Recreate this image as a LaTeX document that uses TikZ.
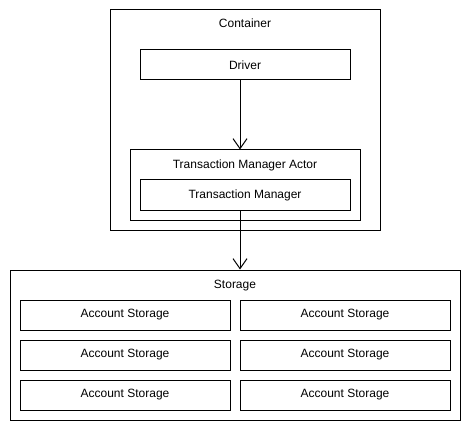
\documentclass[tikz,border=0pt]{standalone}
\usepackage{fontspec}
\setmainfont{Liberation Sans}
\usetikzlibrary{arrows.meta}
\begin{document}
\begin{tikzpicture}[x=1pt,y=-1pt,
  box/.style={draw=black, line width=1pt, fill=white, inner sep=0pt, font=\fontsize{12}{14}\selectfont},
  lbl/.style={inner sep=0pt, anchor=base, font=\fontsize{12}{14}\selectfont},
  arr/.style={draw=black, line width=1pt, -{Straight Barb[length=10pt,width=14pt,line width=1pt]}}]
\useasboundingbox (0,0) rectangle (470,430);
% Container
\node[box, minimum width=270pt, minimum height=220pt] (container) at (245,120) {};
\node[lbl] (containerlbl) at (245,28) {Container};
\node[box, minimum width=210pt, minimum height=30pt] (driver) at (245,65) {Driver};
\node[box, minimum width=230pt, minimum height=70pt] (tma) at (245,185) {};
\node[lbl] (tmalbl) at (245,168) {Transaction Manager Actor};
\node[box, minimum width=210pt, minimum height=30pt] (tm) at (245,195) {Transaction Manager};
% Storage
\node[box, minimum width=450pt, minimum height=150pt] (storage) at (235,345) {};
\node[lbl] (storagelbl) at (235,288) {Storage};
\node[box, minimum width=210pt, minimum height=30pt] (as1) at (125,315) {Account Storage};
\node[box, minimum width=210pt, minimum height=30pt] (as2) at (345,315) {Account Storage};
\node[box, minimum width=210pt, minimum height=30pt] (as3) at (125,355) {Account Storage};
\node[box, minimum width=210pt, minimum height=30pt] (as4) at (345,355) {Account Storage};
\node[box, minimum width=210pt, minimum height=30pt] (as5) at (125,395) {Account Storage};
\node[box, minimum width=210pt, minimum height=30pt] (as6) at (345,395) {Account Storage};
% Arrows
\draw[arr] ([xshift=-5pt]driver.south) -- ([xshift=-5pt]tma.north);
\draw[arr] ([xshift=-5pt]tm.south) -- ([xshift=5pt]storage.north);
\end{tikzpicture}
\end{document}
